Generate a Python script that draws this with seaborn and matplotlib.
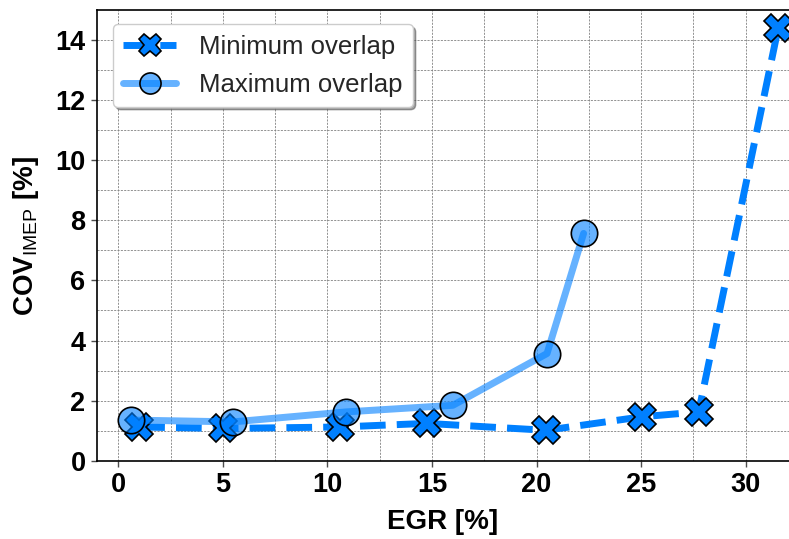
import matplotlib
matplotlib.use("Agg")
import matplotlib.pyplot as plt
from matplotlib.ticker import MultipleLocator
import seaborn as sns
import pandas as pd

# EGR sweep: coefficient of variation of IMEP for two valve-overlap settings
egr_min = [1.0, 5.0, 10.6, 14.75, 20.45, 25.05, 27.75, 31.55]
cov_min = [1.13, 1.08, 1.13, 1.25, 1.02, 1.47, 1.63, 14.37]

egr_max = [0.6, 5.5, 10.87, 16.0, 20.5, 22.25]
cov_max = [1.36, 1.30, 1.63, 1.85, 3.57, 7.56]

x_ticks = [0, 5, 10, 15, 20, 25, 30]
y_ticks = [0, 2, 4, 6, 8, 10, 12, 14]

sns.set_theme(style="whitegrid")
plt.rcParams["font.family"] = ["Liberation Sans", "DejaVu Sans"]
plt.rcParams["mathtext.fontset"] = "custom"
plt.rcParams["mathtext.rm"] = "Liberation Sans"
plt.rcParams["mathtext.bf"] = "Liberation Sans:bold"

fig = plt.figure(figsize=(7.89, 5.39), dpi=100)
ax = fig.add_axes([0.1226, 0.1447, 0.8774, 0.8367])

blue = "#0080ff"
df_min = pd.DataFrame({"EGR": egr_min, "COV": cov_min})
df_max = pd.DataFrame({"EGR": egr_max, "COV": cov_max})

sns.lineplot(data=df_min, x="EGR", y="COV", ax=ax, color=blue, linestyle="--",
             linewidth=5, marker="X", markersize=20, markeredgecolor="black",
             markeredgewidth=1.2, label="Minimum overlap", zorder=3)
sns.lineplot(data=df_max, x="EGR", y="COV", ax=ax, color=(0.0, 0.5, 1.0, 0.6),
             linewidth=5, marker="o", markersize=19,
             markerfacecolor=(0.0, 0.5, 1.0, 0.6), markeredgecolor="black",
             markeredgewidth=1.2, label="Maximum overlap", zorder=4)

ax.set_xlim(-1.03, 32.07)
ax.set_ylim(0, 14.98)
ax.set_xticks(x_ticks)
ax.set_yticks(y_ticks)
ax.xaxis.set_minor_locator(MultipleLocator(2.5))
ax.yaxis.set_minor_locator(MultipleLocator(1))

ax.grid(which="both", linestyle=(0, (2.5, 1.5)), color="0.5", linewidth=0.6)
for side in ["left", "bottom", "top"]:
    ax.spines[side].set_visible(True)
    ax.spines[side].set_color("black")
    ax.spines[side].set_linewidth(1.2)
ax.spines["right"].set_visible(False)

ax.tick_params(axis="both", which="major", length=4, width=1, color="0.3",
               labelsize=19.5, labelcolor="black", direction="out",
               left=True, bottom=True, pad=4)
for lbl in ax.get_xticklabels() + ax.get_yticklabels():
    lbl.set_fontweight("bold")

ax.set_xlabel("EGR [%]", fontsize=20, fontweight="bold", color="black", labelpad=8)
ax.set_ylabel(r"COV$_{\mathrm{IMEP}}$ [%]", fontsize=20, fontweight="bold",
              color="black", labelpad=10)

leg = ax.legend(loc="upper left", fontsize=18.5, shadow=True, frameon=True,
                fancybox=True, handlelength=2.05, borderpad=0.4,
                markerscale=0.8, handletextpad=0.9, labelspacing=0.55,
                bbox_to_anchor=(0.005, 0.997))
leg.get_frame().set_edgecolor("0.8")
for t in leg.get_texts():
    t.set_color("#262626")

fig.savefig("out.png", dpi=100)
